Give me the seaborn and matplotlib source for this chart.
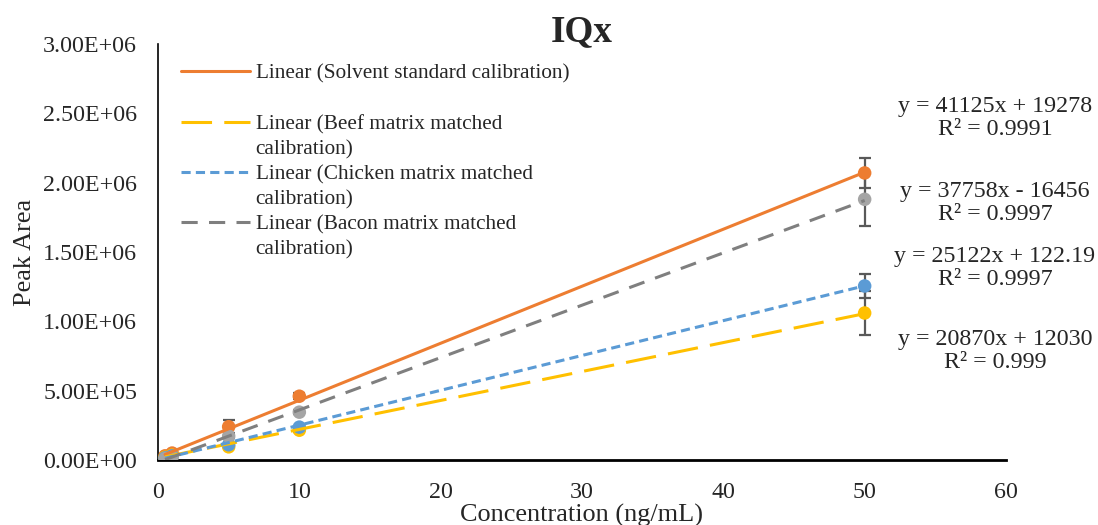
import numpy as np
import pandas as pd
import matplotlib
matplotlib.use("Agg")
import matplotlib.pyplot as plt
from matplotlib.lines import Line2D
import seaborn as sns

# Calibration data: concentration (ng/mL) vs peak area
conc = [0.5, 1, 5, 10, 50]
solvent = [30000, 50000, 240000, 460000, 2070000]
beef = [20000, 35000, 95000, 215000, 1060000]
chicken = [15000, 30000, 110000, 237000, 1255000]
bacon = [10000, 20000, 172000, 345000, 1880000]

solvent_err = [0, 0, 48000, 20000, 108000]
beef_err = [0, 0, 10000, 10000, 156000]
chicken_err = [0, 0, 10000, 10000, 89000]
bacon_err = [0, 0, 15000, 15000, 190000]

series = ["Solvent standard calibration", "Beef matrix matched calibration",
          "Chicken matrix matched calibration", "Bacon matrix matched calibration"]
slopes = [41125, 20870, 25122, 37758]
intercepts = [19278, 12030, 122.19, -16456]
eq_labels = ["y = 41125x + 19278\nR² = 0.9991",
             "y = 20870x + 12030\nR² = 0.999",
             "y = 25122x + 122.19\nR² = 0.9997",
             "y = 37758x - 16456\nR² = 0.9997"]
eq_label_y = [2.465e6, 0.785e6, 1.387e6, 1.856e6]

x_ticks = [0, 10, 20, 30, 40, 50, 60]
y_ticks = [0, 5e5, 1e6, 1.5e6, 2e6, 2.5e6, 3e6]

marker_colors = ["#ED7D31", "#FFC000", "#5B9BD5", "#A5A5A5"]
line_colors = ["#ED7D31", "#FFC000", "#5B9BD5", "#7F7F7F"]
dash_styles = ["", (10, 4), (3, 1.7), (5.3, 3.7)]

sns.set_style("white")
plt.rcParams["font.family"] = ["Liberation Serif", "DejaVu Serif"]

values = [solvent, beef, chicken, bacon]
errors = [solvent_err, beef_err, chicken_err, bacon_err]

points = pd.DataFrame({
    "conc": np.tile(conc, 4),
    "area": np.concatenate(values),
    "err": np.concatenate(errors),
    "series": np.repeat(series, len(conc)),
})

xs = np.array([min(conc), max(conc)])
trend = pd.DataFrame({
    "conc": np.tile(xs, 4),
    "area": np.concatenate([m * xs + b for m, b in zip(slopes, intercepts)]),
    "series": np.repeat(series, 2),
})

fig = plt.figure(figsize=(10.98, 5.25), dpi=100)
ax = fig.add_axes([0.1439, 0.1238, 0.7723, 0.7924])

# error bars, then markers, then fitted trendlines on top
for vals, errs in zip(values, errors):
    ax.errorbar(conc, vals, yerr=errs, fmt="none", ecolor="#595959",
                elinewidth=1.6, capsize=4.6, capthick=1.6, zorder=2)

sns.scatterplot(data=points, x="conc", y="area", hue="series", hue_order=series,
                palette=marker_colors, s=95, linewidth=0, legend=False, ax=ax,
                zorder=3)

sns.lineplot(data=trend, x="conc", y="area", hue="series", style="series",
             hue_order=series, style_order=series, palette=line_colors,
             dashes=dict(zip(series, dash_styles)), linewidth=2.2,
             legend=False, ax=ax, zorder=4)

# equation annotations to the right of the data
for txt, yy in zip(eq_labels, eq_label_y):
    ax.text(59.22, yy, txt, ha="center", va="center", fontsize=17.3,
            linespacing=1.12, clip_on=False)

ax.set_xlim(0, 60)
ax.set_ylim(0, 3e6)
ax.set_xticks(x_ticks)
ax.set_yticks(y_ticks)
ax.set_xticklabels([str(t) for t in x_ticks])
ax.set_yticklabels(["{:.2E}".format(t) for t in y_ticks])
ax.tick_params(axis="both", length=0, labelsize=17.3)
ax.tick_params(axis="y", pad=15)
ax.tick_params(axis="x", pad=16)

for side in ["top", "right"]:
    ax.spines[side].set_visible(False)
ax.spines["left"].set_color("black")
ax.spines["left"].set_linewidth(1.2)
ax.spines["bottom"].set_color("black")
ax.spines["bottom"].set_linewidth(2.0)

ax.set_xlabel("Concentration (ng/mL)", fontsize=18.9, labelpad=0.5)
ax.set_ylabel("Peak Area", fontsize=18.9, labelpad=5)
ax.set_title("IQx", fontsize=26.7, fontweight="bold", pad=2)

# legend rows: trendline handles, with wrapped label lines on their own rows
def handle(i):
    ls = "-" if dash_styles[i] == "" else (0, dash_styles[i])
    return Line2D([], [], color=line_colors[i], lw=2.2, linestyle=ls)

blank = Line2D([], [], color="none")
leg_handles = [handle(0), blank, handle(1), blank, handle(2), blank, handle(3), blank]
leg_labels = ["Linear (Solvent standard calibration)", " ",
              "Linear (Beef matrix matched", "calibration)",
              "Linear (Chicken matrix matched", "calibration)",
              "Linear (Bacon matrix matched", "calibration)"]
ax.legend(leg_handles, leg_labels, loc="upper left", bbox_to_anchor=(0.027, 0.952),
          frameon=False, fontsize=15.3, handlelength=3.27, handletextpad=0.25,
          labelspacing=0.245, borderpad=0, borderaxespad=0)

fig.savefig("out.png", dpi=100)
